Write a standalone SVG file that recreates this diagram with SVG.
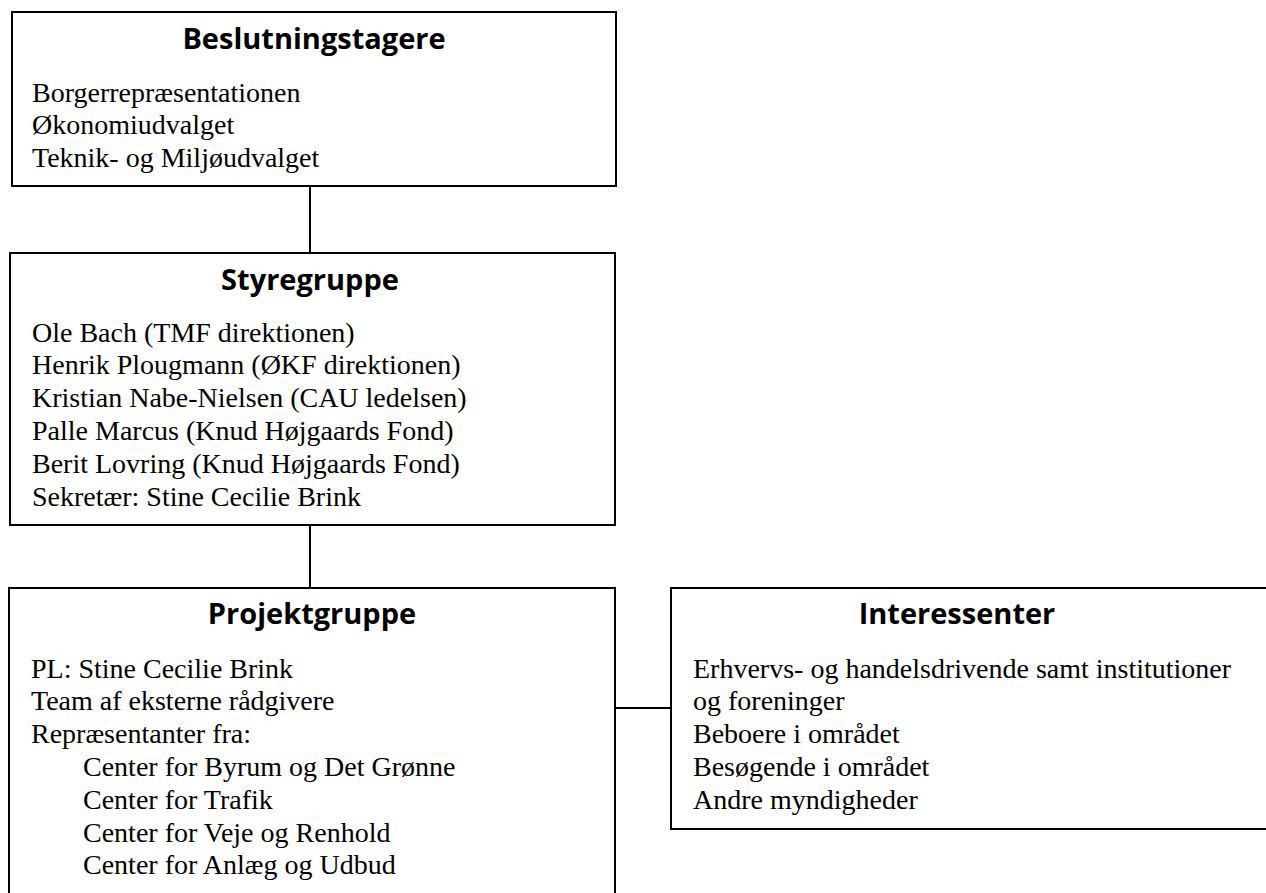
<svg xmlns="http://www.w3.org/2000/svg" width="1266" height="893" viewBox="0 0 1266 893">
<style>
.box{fill:#fff;stroke:#000;stroke-width:2}
.title{font-family:"Open Sans","Liberation Sans",sans-serif;font-weight:bold;font-size:29px;fill:#000;text-anchor:middle}
.body{font-family:"Liberation Serif","DejaVu Serif",serif;font-size:28px;fill:#000}
.conn{stroke:#000;stroke-width:2;fill:none}
</style>
<rect width="1266" height="893" fill="#fff"/>
<g id="connectors">
<line class="conn" x1="310" y1="186" x2="310" y2="253"/>
<line class="conn" x1="310" y1="525" x2="310" y2="588"/>
<line class="conn" x1="615" y1="708" x2="671" y2="708"/>
</g>
<g id="beslutningstagere">
<rect class="box" x="12" y="12" width="604" height="174"/>
<text class="title" x="314" y="49">Beslutningstagere</text>
<text class="body" x="32" y="101.5">Borgerrepræsentationen</text>
<text class="body" x="32" y="134.3">Økonomiudvalget</text>
<text class="body" x="32" y="167.1">Teknik- og Miljøudvalget</text>
</g>
<g id="styregruppe">
<rect class="box" x="10" y="253" width="605" height="272"/>
<text class="title" x="310" y="290">Styregruppe</text>
<text class="body" x="32" y="341.5">Ole Bach (TMF direktionen)</text>
<text class="body" x="32" y="374.3">Henrik Plougmann (ØKF direktionen)</text>
<text class="body" x="32" y="407.1">Kristian Nabe-Nielsen (CAU ledelsen)</text>
<text class="body" x="32" y="439.9">Palle Marcus (Knud Højgaards Fond)</text>
<text class="body" x="32" y="472.7">Berit Lovring (Knud Højgaards Fond)</text>
<text class="body" x="32" y="505.5">Sekretær: Stine Cecilie Brink</text>
</g>
<g id="projektgruppe">
<rect class="box" x="9" y="588" width="606" height="320"/>
<text class="title" x="312" y="624">Projektgruppe</text>
<text class="body" x="31" y="677.5">PL: Stine Cecilie Brink</text>
<text class="body" x="31" y="710.3">Team af eksterne rådgivere</text>
<text class="body" x="31" y="743.1">Repræsentanter fra:</text>
<text class="body" x="83" y="775.9">Center for Byrum og Det Grønne</text>
<text class="body" x="83" y="808.7">Center for Trafik</text>
<text class="body" x="83" y="841.5">Center for Veje og Renhold</text>
<text class="body" x="83" y="874.3">Center for Anlæg og Udbud</text>
</g>
<g id="interessenter">
<rect class="box" x="671" y="588" width="620" height="241"/>
<text class="title" x="957" y="624">Interessenter</text>
<text class="body" x="693" y="677.5">Erhvervs- og handelsdrivende samt institutioner</text>
<text class="body" x="693" y="710.3">og foreninger</text>
<text class="body" x="693" y="743.1">Beboere i området</text>
<text class="body" x="693" y="775.9">Besøgende i området</text>
<text class="body" x="693" y="808.7">Andre myndigheder</text>
</g>
</svg>
